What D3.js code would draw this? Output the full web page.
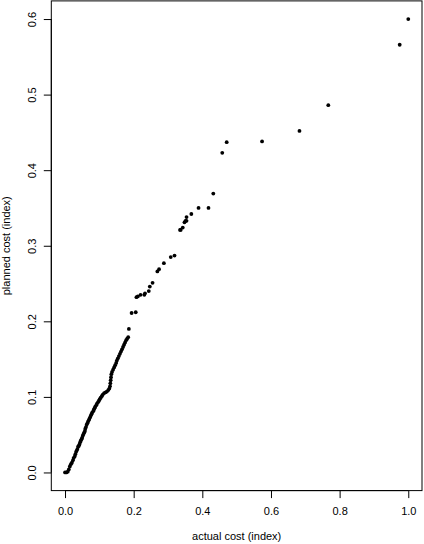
<!DOCTYPE html>
<html>
<head>
<meta charset="utf-8">
<script src="https://cdn.jsdelivr.net/npm/d3@7"></script>
<style>
  html, body { margin: 0; padding: 0; background: #fff; }
  svg { display: block; }
  text { font-family: "Liberation Sans", Arial, Helvetica, sans-serif; fill: #000; }
</style>
</head>
<body>
<svg id="chart" width="424" height="544"></svg>
<script>
// ---- data ----
const actualCost = [
  0.000, 0.004, 0.008, 0.011, 0.014, 0.017, 0.020, 0.023, 0.025, 0.028,
  0.030, 0.032, 0.034, 0.036, 0.038, 0.040, 0.042, 0.044, 0.046, 0.048,
  0.050, 0.052, 0.054, 0.056, 0.058, 0.059, 0.061, 0.063, 0.065, 0.067,
  0.069, 0.071, 0.073, 0.075, 0.077, 0.079, 0.082, 0.084, 0.086, 0.088,
  0.091, 0.093, 0.096, 0.099, 0.101, 0.104, 0.107, 0.110, 0.114, 0.118,
  0.122, 0.126, 0.129, 0.131, 0.132, 0.133, 0.134, 0.135, 0.137, 0.140,
  0.143, 0.146, 0.149, 0.151, 0.154, 0.157, 0.160, 0.163, 0.166, 0.169,
  0.172, 0.175, 0.178, 0.181, 0.184, 0.186,
  0.194, 0.206, 0.208, 0.212, 0.220, 0.231, 0.233, 0.244, 0.247, 0.255,
  0.269, 0.274, 0.288, 0.308, 0.319, 0.335, 0.337, 0.343, 0.348, 0.351,
  0.354, 0.354, 0.368, 0.389, 0.418, 0.432, 0.458, 0.471, 0.574, 0.683,
  0.767, 0.975, 1.000
];
const plannedCost = [
  0.000, 0.000, 0.001, 0.004, 0.008, 0.011, 0.013, 0.016, 0.019, 0.021,
  0.024, 0.027, 0.029, 0.031, 0.034, 0.035, 0.037, 0.040, 0.042, 0.044,
  0.046, 0.049, 0.051, 0.053, 0.055, 0.058, 0.060, 0.063, 0.065, 0.067,
  0.069, 0.071, 0.073, 0.075, 0.077, 0.079, 0.081, 0.083, 0.085, 0.087,
  0.089, 0.091, 0.093, 0.095, 0.097, 0.099, 0.101, 0.103, 0.105, 0.106,
  0.107, 0.109, 0.111, 0.114, 0.118, 0.122, 0.126, 0.130, 0.133, 0.136,
  0.139, 0.142, 0.145, 0.148, 0.151, 0.154, 0.157, 0.160, 0.163, 0.166,
  0.169, 0.172, 0.175, 0.177, 0.179, 0.190,
  0.211, 0.212, 0.232, 0.233, 0.235, 0.235, 0.237, 0.240, 0.246, 0.251,
  0.266, 0.269, 0.277, 0.285, 0.287, 0.321, 0.321, 0.324, 0.331, 0.333,
  0.333, 0.338, 0.342, 0.350, 0.350, 0.369, 0.423, 0.437, 0.438, 0.452,
  0.486, 0.566, 0.600
];
const xTicks = [0.0, 0.2, 0.4, 0.6, 0.8, 1.0];
const yTicks = [0.0, 0.1, 0.2, 0.3, 0.4, 0.5, 0.6];
const xTitle = "actual cost (index)";
const yTitle = "planned cost (index)";

// ---- layout ----
const svg = d3.select("#chart");
const mLeft = 51.3, mRight = 422, mTop = 0.9, mBottom = 490.6;

const x = d3.scaleLinear().domain([-0.04, 1.04]).range([mLeft, mRight]);
const y = d3.scaleLinear().domain([-0.024, 0.624]).range([mBottom, mTop]);

const fmt = d3.format(".1f");

// box
svg.append("rect")
  .attr("x", mLeft).attr("y", mTop)
  .attr("width", mRight - mLeft).attr("height", mBottom - mTop)
  .attr("fill", "none").attr("stroke", "#000").attr("stroke-width", 1);

// x axis
const xAxis = svg.append("g")
  .attr("transform", `translate(0,${mBottom})`)
  .call(d3.axisBottom(x).tickValues(xTicks).tickFormat(fmt).tickSize(7.5).tickPadding(9));
xAxis.select(".domain").attr("d", `M${x(0)},0H${x(1)}`);
xAxis.selectAll("text").attr("font-size", 11).attr("font-family", "Liberation Sans, Arial, sans-serif");

// y axis
const yAxis = svg.append("g")
  .attr("transform", `translate(${mLeft},0)`)
  .call(d3.axisLeft(y).tickValues(yTicks).tickFormat(fmt).tickSize(7.5));
yAxis.select(".domain").attr("d", `M0,${y(0)}V${y(0.6)}`);
yAxis.selectAll("text")
  .attr("font-size", 11)
  .attr("font-family", "Liberation Sans, Arial, sans-serif")
  .attr("text-anchor", "middle")
  .attr("x", null).attr("dy", null)
  .attr("transform", `translate(${36 - mLeft},0) rotate(-90)`);

// titles
svg.append("text")
  .attr("x", (mLeft + mRight) / 2)
  .attr("y", 540)
  .attr("text-anchor", "middle")
  .attr("font-size", 11)
  .text(xTitle);

svg.append("text")
  .attr("transform", `translate(9.5,${(mTop + mBottom) / 2}) rotate(-90)`)
  .attr("text-anchor", "middle")
  .attr("font-size", 11)
  .text(yTitle);

// points
svg.append("g").selectAll("circle")
  .data(actualCost.map((a, i) => [a, plannedCost[i]]))
  .join("circle")
  .attr("cx", d => x(d[0]))
  .attr("cy", d => y(d[1]))
  .attr("r", 1.9)
  .attr("fill", "#000");
</script>
</body>
</html>
